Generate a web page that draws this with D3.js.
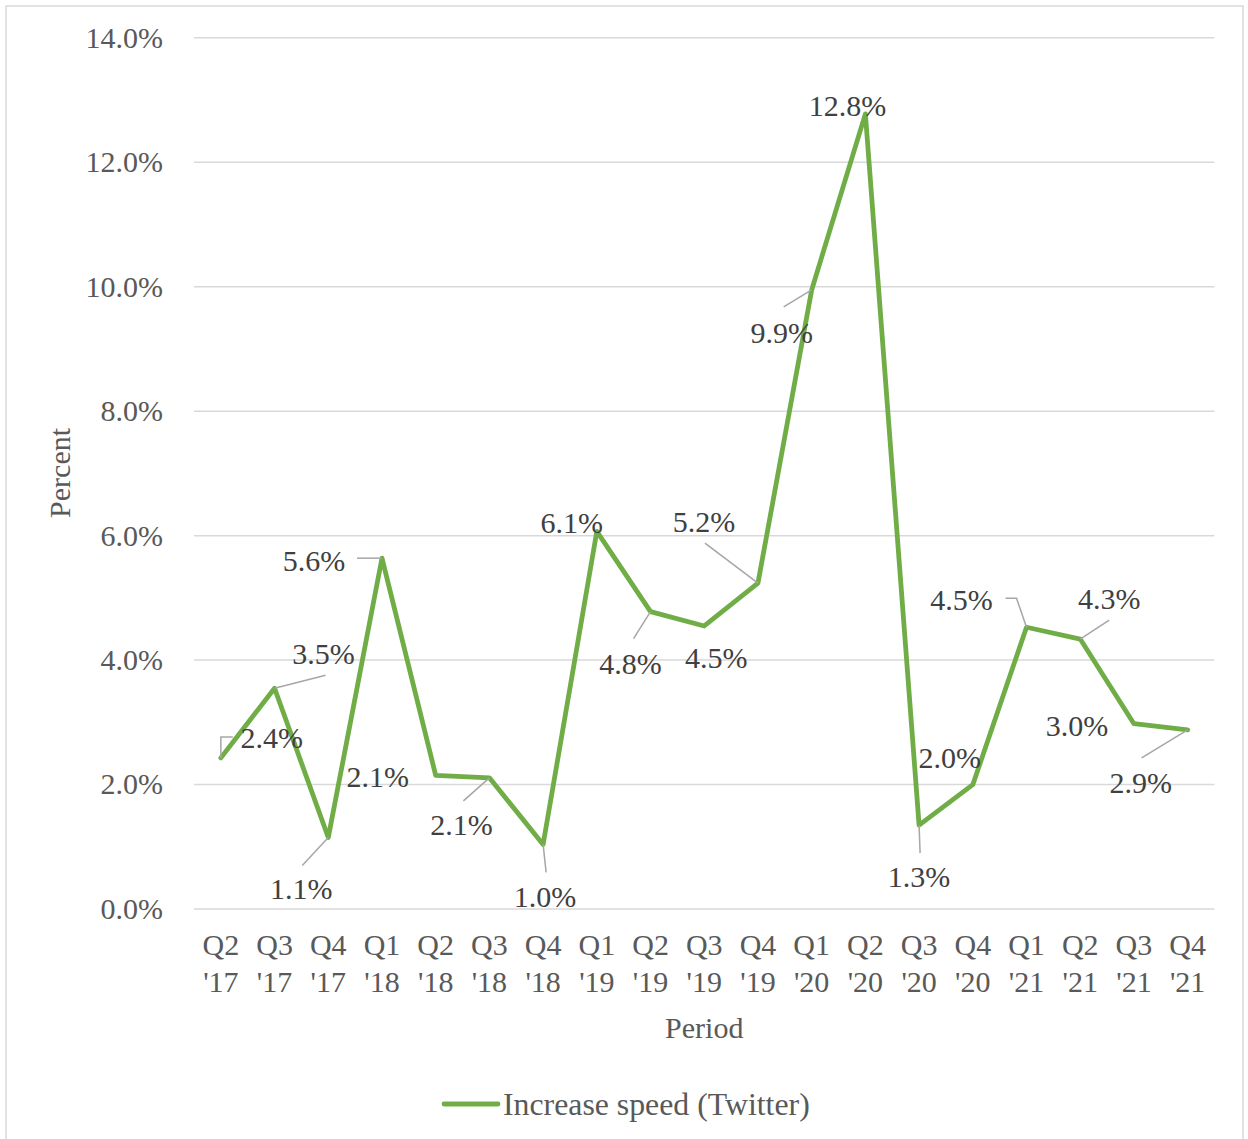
<!DOCTYPE html>
<html>
<head>
<meta charset="utf-8">
<script src="https://cdn.jsdelivr.net/npm/d3@7"></script>
<style>
  html, body { margin: 0; padding: 0; background: #ffffff; }
  svg { display: block; }
  text { font-family: "Liberation Serif", "Times New Roman", serif; }
</style>
</head>
<body>
<svg id="chart" width="1248" height="1139"></svg>
<script>
// Quarterly increase speed of Twitter users, in percent
const quarters = ["Q2", "Q3", "Q4", "Q1", "Q2", "Q3", "Q4", "Q1", "Q2", "Q3", "Q4", "Q1", "Q2", "Q3", "Q4", "Q1", "Q2", "Q3", "Q4"];
const years    = ["'17", "'17", "'17", "'18", "'18", "'18", "'18", "'19", "'19", "'19", "'19", "'20", "'20", "'20", "'20", "'21", "'21", "'21", "'21"];
const increaseSpeed = [2.42, 3.54, 1.14, 5.63, 2.14, 2.10, 1.03, 6.06, 4.77, 4.54, 5.23, 9.94, 12.77, 1.34, 1.99, 4.52, 4.33, 2.97, 2.87];
const yTicks = [0, 2, 4, 6, 8, 10, 12, 14];
const seriesName = "Increase speed (Twitter)";

// Data label placement: text centre offset from its point, plus optional leader polyline
const labelLayout = [
  { dx: 51,  dy: -20, leader: [[0, 0], [0, -21], [12, -21]] },
  { dx: 49,  dy: -34, leader: [[0, 0], [51, -13]] },
  { dx: -27, dy: 52,  leader: [[0, 0], [-26, 28]] },
  { dx: -68, dy: 3,   leader: [[0, 0], [-25, 0]] },
  { dx: -58, dy: 2,   leader: null },
  { dx: -28, dy: 47,  leader: [[0, 0], [-26, 23]] },
  { dx: 2,   dy: 53,  leader: [[0, 0], [3, 28]] },
  { dx: -25, dy: -8,  leader: null },
  { dx: -20, dy: 52,  leader: [[0, 0], [-17, 27]] },
  { dx: 12,  dy: 32,  leader: null },
  { dx: -54, dy: -61, leader: [[0, 0], [-53, -40]] },
  { dx: -30, dy: 43,  leader: [[0, 0], [-28, 17]] },
  { dx: -18, dy: -8,  leader: null },
  { dx: 0,   dy: 52,  leader: [[0, 0], [1, 28]] },
  { dx: -23, dy: -27, leader: null },
  { dx: -65, dy: -27, leader: [[0, 0], [-10, -29], [-21, -29]] },
  { dx: 29,  dy: -40, leader: [[0, 0], [29, -19]] },
  { dx: -57, dy: 2,   leader: null },
  { dx: -47, dy: 53,  leader: [[0, 0], [-46, 28]] }
];

const svg = d3.select("#chart");
const FONT = 30;
const plot = { left: 194, right: 1214.5, top: 37.3, bottom: 908.5 };

// Outer chart frame
svg.append("rect")
  .attr("x", 6).attr("y", 6)
  .attr("width", 1237).attr("height", 1160)
  .attr("fill", "#ffffff")
  .attr("stroke", "#d9d9d9").attr("stroke-width", 1.5);

const x = d3.scaleBand()
  .domain(d3.range(quarters.length))
  .range([plot.left, plot.right])
  .padding(0);

const y = d3.scaleLinear()
  .domain([0, 14])
  .range([plot.bottom, plot.top]);

// Value axis with horizontal gridlines
const yAxis = svg.append("g")
  .attr("transform", `translate(${plot.left},0)`)
  .call(d3.axisLeft(y)
    .tickValues(yTicks)
    .tickSize(-(plot.right - plot.left))
    .tickPadding(31)
    .tickFormat(d => d.toFixed(1) + "%"));
yAxis.select(".domain").remove();
yAxis.selectAll(".tick line").attr("stroke", "#d9d9d9").attr("stroke-width", 1.5);
yAxis.selectAll(".tick text")
  .attr("fill", "#595959")
  .style("font-size", FONT + "px")
  .attr("dy", "0.33em");

// Category axis with two-line quarter labels
const xAxis = svg.append("g")
  .attr("transform", `translate(0,${plot.bottom})`)
  .call(d3.axisBottom(x).tickSize(0).tickFormat(() => ""));
xAxis.select(".domain").remove();
xAxis.selectAll(".tick text").each(function (i) {
  const t = d3.select(this)
    .attr("fill", "#595959")
    .style("font-size", FONT + "px")
    .attr("y", 0).attr("dy", null);
  t.append("tspan").attr("x", 0).attr("y", 46).text(quarters[i]);
  t.append("tspan").attr("x", 0).attr("y", 83).text(years[i]);
});

// Axis titles
svg.append("text")
  .attr("x", (plot.left + plot.right) / 2)
  .attr("y", 1038)
  .attr("text-anchor", "middle")
  .attr("fill", "#595959")
  .style("font-size", FONT + "px")
  .text("Period");

svg.append("text")
  .attr("transform", `translate(70,${(plot.top + plot.bottom) / 2}) rotate(-90)`)
  .attr("text-anchor", "middle")
  .attr("fill", "#595959")
  .style("font-size", FONT + "px")
  .text("Percent");

// Series line
const cx = i => x(i) + x.bandwidth() / 2;
const line = d3.line()
  .x((d, i) => cx(i))
  .y(d => y(d));

svg.append("path")
  .datum(increaseSpeed)
  .attr("d", line)
  .attr("fill", "none")
  .attr("stroke", "#70ad47")
  .attr("stroke-width", 4.8)
  .attr("stroke-linejoin", "round")
  .attr("stroke-linecap", "round");

// Leader lines
const leaderLine = d3.line();
const labels = svg.append("g");
increaseSpeed.forEach((v, i) => {
  const L = labelLayout[i];
  const px = cx(i), py = y(v);
  if (L.leader) {
    labels.append("path")
      .attr("d", leaderLine(L.leader.map(([a, b]) => [px + a, py + b])))
      .attr("fill", "none")
      .attr("stroke", "#a6a6a6")
      .attr("stroke-width", 1.5);
  }
});

// Data labels
increaseSpeed.forEach((v, i) => {
  const L = labelLayout[i];
  labels.append("text")
    .attr("x", cx(i) + L.dx)
    .attr("y", y(v) + L.dy)
    .attr("dy", "0.33em")
    .attr("text-anchor", "middle")
    .attr("fill", "#404040")
    .style("font-size", FONT + "px")
    .text(v.toFixed(1) + "%");
});

// Legend
const legend = svg.append("g").attr("transform", "translate(0,1104)");
legend.append("line")
  .attr("x1", 444).attr("x2", 498)
  .attr("y1", 0).attr("y2", 0)
  .attr("stroke", "#70ad47")
  .attr("stroke-width", 4.8)
  .attr("stroke-linecap", "round");
legend.append("text")
  .attr("x", 503)
  .attr("y", 0)
  .attr("dy", "0.33em")
  .attr("fill", "#595959")
  .style("font-size", "31.8px")
  .text(seriesName);
</script>
</body>
</html>
